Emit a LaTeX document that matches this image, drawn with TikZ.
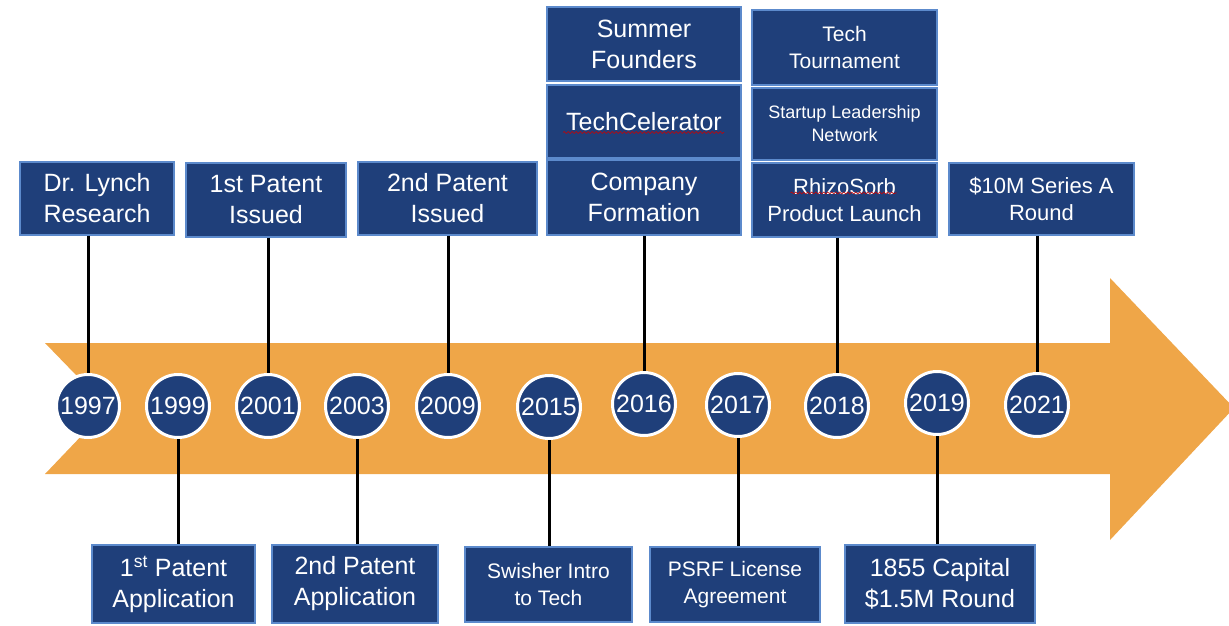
\documentclass[tikz,border=0pt]{standalone}
\usepackage{fontspec}
\setmainfont{Liberation Sans}
\usepackage{tikz}
\usetikzlibrary{decorations.pathmorphing}
\definecolor{navy}{RGB}{31,63,122}
\definecolor{boxline}{RGB}{92,138,204}
\definecolor{barorange}{RGB}{239,166,72}

\begin{document}
\begin{tikzpicture}[x=1pt, y=-1pt,
  box/.style 2 args={draw=boxline, line width=1.2pt, fill=navy, text=white, align=center,
    inner sep=0pt, minimum width=#1, minimum height=#2, font=\fontsize{25}{31}\selectfont},
  year/.style={circle, draw=white, line width=3pt, fill=navy, text=white, minimum size=63pt,
    inner sep=0pt, font=\fontsize{25}{25}\selectfont},
  stem/.style={line width=3pt, black},
  squiggle/.style={red!80!black, line width=0.6pt, decorate,
    decoration={snake, amplitude=1pt, segment length=4pt}}]
            \useasboundingbox (0,0) rectangle (1229,625);

            % Draw the arrow
            \fill[barorange] (45,343) -- (1110,343) -- (1110,278) -- (1234,408)
              -- (1110,540) -- (1110,474) -- (45,474) -- (108,408) -- cycle;

            % Define boxes above
            \node[box={154}{73}] (lynch) at (97,198.5) {Dr. Lynch\\Research};
            \node[box={160}{74}] (patone) at (266,200) {1st Patent\\Issued};
            \node[box={179}{73}] (pattwo) at (447.5,198.5) {2nd Patent\\Issued};
            \node[box={194}{75}] (formation) at (644,197.5) {Company\\Formation};
            \node[box={194}{73}] (techcel) at (644,121.5) {TechCelerator};
            \node[box={194}{74}] (summer) at (644,44) {Summer\\Founders};
            \node[box={185}{74}, font=\fontsize{22}{27}\selectfont] (launch) at (844.5,200) {RhizoSorb\\Product Launch};
            \node[box={185}{72}, font=\fontsize{18}{23}\selectfont] (startup) at (844.5,124) {Startup Leadership\\Network};
            \node[box={185}{75}, font=\fontsize{21}{27}\selectfont] (tourney) at (844.5,47.5) {Tech\\Tournament};
            \node[box={185}{72}, font=\fontsize{22}{27}\selectfont] (seriesa) at (1041.5,199) {\$10M Series A\\Round};

            % Define boxes below
            \node[box={163}{78}] (appone) at (173.5,584) {1\textsuperscript{st} Patent\\Application};
            \node[box={166}{78}] (apptwo) at (355,584) {2nd Patent\\Application};
            \node[box={167}{75}, font=\fontsize{21}{27}\selectfont] (swisher) at (548.5,584.5) {Swisher Intro\\to Tech};
            \node[box={170}{75}, font=\fontsize{21}{27}\selectfont] (psrf) at (735,584.5) {PSRF License\\Agreement};
            \node[box={190}{78}] (capital) at (940,584) {1855 Capital\\\$1.5M Round};

            % Spelling marks
            \draw[squiggle] ([shift={(-81,11)}]techcel.center) -- ([shift={(80,11)}]techcel.center);
            \draw[squiggle] ([shift={(-54,-7)}]launch.center) -- ([shift={(52,-7)}]launch.center);

            % Define years
            \node[year] (y1997) at (88,406) {1997};
            \node[year] (y1999) at (178,406) {1999};
            \node[year] (y2001) at (268,406) {2001};
            \node[year] (y2003) at (357,406) {2003};
            \node[year] (y2009) at (448,406) {2009};
            \node[year] (y2015) at (549,407) {2015};
            \node[year] (y2016) at (644,404) {2016};
            \node[year] (y2017) at (738,405) {2017};
            \node[year] (y2018) at (837,406) {2018};
            \node[year] (y2019) at (937,403) {2019};
            \node[year] (y2021) at (1037,405) {2021};

            % Draw stems
            \draw[stem] (lynch.south -| y1997) -- (y1997.north);
            \draw[stem] (patone.south -| y2001) -- (y2001.north);
            \draw[stem] (pattwo.south -| y2009) -- (y2009.north);
            \draw[stem] (formation.south -| y2016) -- (y2016.north);
            \draw[stem] (launch.south -| y2018) -- (y2018.north);
            \draw[stem] (seriesa.south -| y2021) -- (y2021.north);
            \draw[stem] (y1999.south) -- (appone.north -| y1999);
            \draw[stem] (y2003.south) -- (apptwo.north -| y2003);
            \draw[stem] (y2015.south) -- (swisher.north -| y2015);
            \draw[stem] (y2017.south) -- (psrf.north -| y2017);
            \draw[stem] (y2019.south) -- (capital.north -| y2019);
        \end{tikzpicture}
\end{document}
